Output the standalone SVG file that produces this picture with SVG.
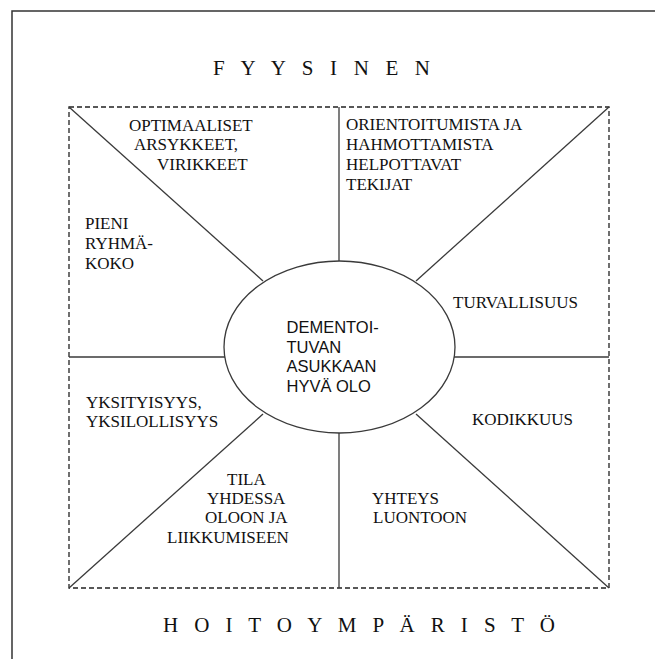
<svg xmlns="http://www.w3.org/2000/svg" width="655" height="659" viewBox="0 0 655 659">
  <style>
    .serif { font-family: "Liberation Serif", "Times New Roman", serif; font-size: 17px; fill: #111; }
    .title { font-family: "Liberation Serif", "Times New Roman", serif; font-size: 21px; fill: #111; }
    .sans { font-family: "Liberation Sans", Arial, sans-serif; font-size: 16.5px; fill: #111; }
    .line { stroke: #3a3a3a; stroke-width: 1.3; fill: none; }
    .dash { stroke: #222; stroke-width: 1.3; fill: none; stroke-dasharray: 5 3; }
    .frame { stroke: #333; stroke-width: 1.5; fill: none; }
  </style>
  <rect width="655" height="659" fill="#fff"/>
  <path class="frame" d="M12,659 V11 H655"/>
  <rect id="square" class="dash" x="69" y="107" width="540" height="481"/>

  <g id="connectors">
    <line class="line" x1="339" y1="107" x2="339" y2="261"/>
    <line class="line" x1="339" y1="433" x2="339" y2="588"/>
    <line class="line" x1="69" y1="357" x2="225" y2="357"/>
    <line class="line" x1="454" y1="357" x2="609" y2="357"/>
    <line class="line" x1="69" y1="107" x2="263" y2="281"/>
    <line class="line" x1="609" y1="107" x2="416" y2="281"/>
    <line class="line" x1="69" y1="588" x2="263" y2="414"/>
    <line class="line" x1="609" y1="588" x2="416" y2="414"/>
  </g>

  <g id="title-top">
    <text class="title" x="213" y="75" textLength="217" lengthAdjust="spacing">F Y Y S I N E N</text>
  </g>
  <g id="title-bottom">
    <text class="title" x="163" y="632" textLength="392" lengthAdjust="spacing">H O I T O Y M P Ä R I S T Ö</text>
  </g>

  <g id="center">
    <ellipse class="line" cx="339.5" cy="347" rx="115.5" ry="86" fill="#fff"/>
    <text class="sans" x="286.5" y="333">DEMENTOI-</text>
    <text class="sans" x="286.5" y="352.5">TUVAN</text>
    <text class="sans" x="286.5" y="372">ASUKKAAN</text>
    <text class="sans" x="286.5" y="391.5">HYVÄ OLO</text>
  </g>

  <g id="optimaaliset">
    <text class="serif" x="129" y="131">OPTIMAALISET</text>
    <text class="serif" x="134" y="150">ARSYKKEET,</text>
    <text class="serif" x="157" y="170">VIRIKKEET</text>
  </g>
  <g id="orientoitumista">
    <text class="serif" x="346" y="130">ORIENTOITUMISTA JA</text>
    <text class="serif" x="346" y="149.5">HAHMOTTAMISTA</text>
    <text class="serif" x="346" y="169.5">HELPOTTAVAT</text>
    <text class="serif" x="346" y="189.5">TEKIJAT</text>
  </g>
  <g id="pieni">
    <text class="serif" x="85" y="228.5">PIENI</text>
    <text class="serif" x="85" y="248.5">RYHMÄ-</text>
    <text class="serif" x="85" y="268.5">KOKO</text>
  </g>
  <g id="turvallisuus">
    <text class="serif" x="453" y="308">TURVALLISUUS</text>
  </g>
  <g id="yksityisyys">
    <text class="serif" x="86" y="408">YKSITYISYYS,</text>
    <text class="serif" x="86" y="427">YKSILOLLISYYS</text>
  </g>
  <g id="kodikkuus">
    <text class="serif" x="472" y="425">KODIKKUUS</text>
  </g>
  <g id="tila">
    <text class="serif" x="227" y="485">TILA</text>
    <text class="serif" x="207" y="504">YHDESSA</text>
    <text class="serif" x="205" y="523">OLOON JA</text>
    <text class="serif" x="167" y="543">LIIKKUMISEEN</text>
  </g>
  <g id="yhteys">
    <text class="serif" x="372" y="504">YHTEYS</text>
    <text class="serif" x="373" y="523">LUONTOON</text>
  </g>
</svg>
